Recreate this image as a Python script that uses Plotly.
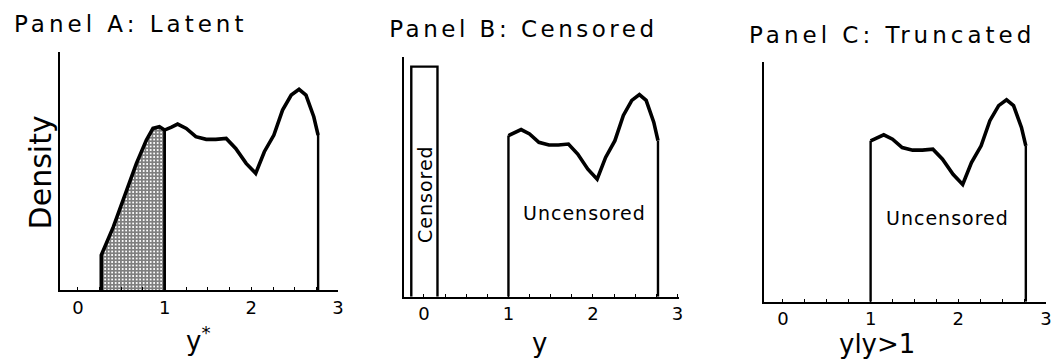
import plotly.graph_objects as go

# ---- data ----
curve_x = [0.27, 0.41, 0.54, 0.675, 0.79, 0.866, 0.94, 1.0, 1.08, 1.15, 1.25, 1.36, 1.48,
           1.59, 1.71, 1.82, 1.94, 2.05, 2.15, 2.26, 2.36, 2.46, 2.55, 2.63, 2.72, 2.77]
curve_y = [0.147, 0.266, 0.392, 0.532, 0.63, 0.679, 0.686, 0.672, 0.684, 0.697, 0.679, 0.644,
           0.633, 0.633, 0.637, 0.595, 0.532, 0.49, 0.581, 0.651, 0.756, 0.819, 0.843, 0.819,
           0.728, 0.651]
threshold = 1.0
censored_x = [-0.15, 0.16]
censored_mass = 0.96
tick_vals = [0, 1, 2, 3]
tick_text = ["0", "1", "2", "3"]
panel_titles = ["Panel A: Latent", "Panel B: Censored", "Panel C: Truncated"]
x_titles = ["y<sup>*</sup>", "y", "yly>1"]

W, H = 1052, 362
FONT = "DejaVu Sans"


def px(x):
    return x / W


def py(y):
    return 1 - y / H


def interp(x):
    for i in range(len(curve_x) - 1):
        if curve_x[i] <= x <= curve_x[i + 1]:
            t = (x - curve_x[i]) / (curve_x[i + 1] - curve_x[i])
            return curve_y[i] + t * (curve_y[i + 1] - curve_y[i])
    return 0


low_x = [x for x in curve_x if x <= threshold]
low_y = [curve_y[curve_x.index(x)] for x in low_x]
high_x = [x for x in curve_x if x >= threshold]
high_y = [curve_y[curve_x.index(x)] for x in high_x]

fig = go.Figure()
LW = 3.6
VW = 2.4
black = "black"

# ---------- Panel A ----------
fig.add_trace(go.Scatter(
    x=[low_x[0]] + low_x + [threshold, threshold], y=[0] + low_y + [interp(threshold), 0],
    mode="lines", line=dict(color=black, width=0), fill="toself",
    fillcolor="white",
    fillpattern=dict(shape="+", size=3.5, solidity=0.75, fgcolor="black", bgcolor="white"),
    xaxis="x", yaxis="y", hoverinfo="skip"))
fig.add_trace(go.Scatter(
    x=[curve_x[0]] + curve_x, y=[0] + curve_y, mode="lines",
    line=dict(color=black, width=LW), xaxis="x", yaxis="y"))
fig.add_trace(go.Scatter(
    x=[curve_x[-1], curve_x[-1]], y=[curve_y[-1], 0], mode="lines",
    line=dict(color=black, width=VW), xaxis="x", yaxis="y"))
fig.add_trace(go.Scatter(
    x=[threshold, threshold], y=[0, interp(threshold)], mode="lines",
    line=dict(color=black, width=2.8), xaxis="x", yaxis="y"))

# ---------- Panel B ----------
fig.add_trace(go.Scatter(
    x=[censored_x[0], censored_x[0], censored_x[1], censored_x[1]],
    y=[0, censored_mass, censored_mass, 0], mode="lines",
    line=dict(color=black, width=VW), xaxis="x2", yaxis="y2"))
fig.add_trace(go.Scatter(
    x=high_x, y=high_y, mode="lines",
    line=dict(color=black, width=LW), xaxis="x2", yaxis="y2"))
for xx, yy in [(threshold, high_y[0]), (high_x[-1], high_y[-1])]:
    fig.add_trace(go.Scatter(x=[xx, xx], y=[0, yy], mode="lines",
                             line=dict(color=black, width=VW), xaxis="x2", yaxis="y2"))

# ---------- Panel C ----------
fig.add_trace(go.Scatter(
    x=high_x, y=high_y, mode="lines",
    line=dict(color=black, width=LW), xaxis="x3", yaxis="y3"))
for xx, yy in [(threshold, high_y[0]), (high_x[-1], high_y[-1])]:
    fig.add_trace(go.Scatter(x=[xx, xx], y=[0, yy], mode="lines",
                             line=dict(color=black, width=VW), xaxis="x3", yaxis="y3"))

# axes geometry (pixels)
panels = [
    dict(x0=60, x1=340, rng=[-0.21, 3.0], yb=290, yt=52),
    dict(x0=406, x1=683, rng=[-0.24, 3.02], yb=296.7, yt=57),
    dict(x0=768, x1=1052, rng=[-0.22, 3.0], yb=301.7, yt=62.3),
]

layout = dict(width=W, height=H, margin=dict(l=0, r=0, t=0, b=0),
              paper_bgcolor="white", plot_bgcolor="white", showlegend=False,
              font=dict(family=FONT, color="black"))
for i, p in enumerate(panels):
    sfx = "" if i == 0 else str(i + 1)
    layout["xaxis" + sfx] = dict(
        domain=[px(p["x0"]), px(p["x1"])], range=p["rng"], anchor="y" + sfx,
        showline=True, linecolor="black", linewidth=1.8, showgrid=False, zeroline=False,
        tickvals=tick_vals, ticktext=tick_text, ticks="inside", ticklen=3, tickwidth=1.2,
        tickcolor="black", tickfont=dict(size=18, family=FONT),
        minor=dict(dtick=0.25, tick0=0, ticks="inside", ticklen=3, tickwidth=1,
                   tickcolor="black", showgrid=False),
        fixedrange=True)
    layout["yaxis" + sfx] = dict(
        domain=[py(p["yb"]), py(p["yt"])], range=[0, 1], anchor="x" + sfx,
        showline=True, linecolor="black", linewidth=1.8, showgrid=False, zeroline=False,
        showticklabels=False, ticks="", fixedrange=True)
fig.update_layout(**layout)

ann = []
title_pos = [(131, 24), (527, 29), (897, 35)]
for t, (x, y) in zip(panel_titles, title_pos):
    ann.append(dict(text=t, x=px(x), y=py(y), xref="paper", yref="paper", showarrow=False,
                    font=dict(size=23, family=FONT), xanchor="center", yanchor="middle"))
xt_pos = [(199, 339), (543, 343), (882, 344)]
for t, (x, y) in zip(x_titles, xt_pos):
    ann.append(dict(text=t, x=px(x), y=py(y), xref="paper", yref="paper", showarrow=False,
                    font=dict(size=26, family=FONT), xanchor="center", yanchor="middle"))
ann.append(dict(text="Density", x=px(21), y=py(172), xref="paper", yref="paper",
                showarrow=False, textangle=-90, font=dict(size=30, family=FONT)))
ann.append(dict(text="Censored", x=sum(censored_x) / 2, y=0.43, xref="x2", yref="y2",
                showarrow=False, textangle=-90, font=dict(size=19, family=FONT)))
ann.append(dict(text="Uncensored", x=1.9, y=0.35, xref="x2", yref="y2",
                showarrow=False, font=dict(size=19, family=FONT)))
ann.append(dict(text="Uncensored", x=1.88, y=0.35, xref="x3", yref="y3",
                showarrow=False, font=dict(size=19, family=FONT)))
fig.update_layout(annotations=ann)

post = """
document.body.style.margin = '0';
var spacing = {0: '4px', 1: '3.5px', 2: '4px', 7: '1px', 8: '1px', 9: '1px'};
document.querySelectorAll('g.annotation').forEach(function(g) {
  var idx = parseInt(g.getAttribute('data-index'));
  if (spacing[idx] !== undefined) {
    g.querySelectorAll('text').forEach(function(t) { t.style.letterSpacing = spacing[idx]; });
  }
});
"""
fig.write_html("out.html", post_script=post, config={"displayModeBar": False})
